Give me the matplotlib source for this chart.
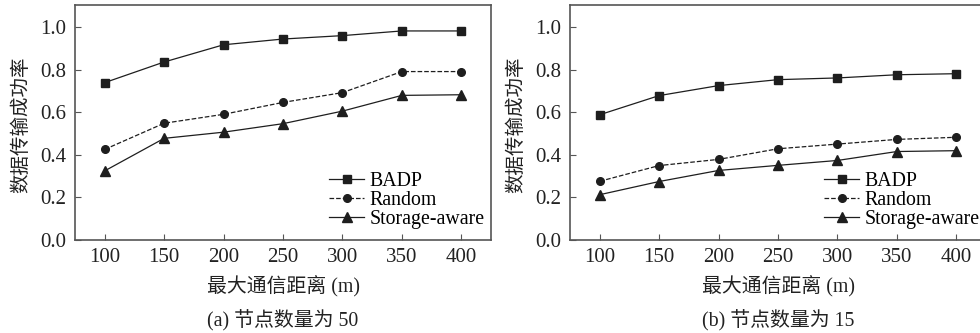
import matplotlib
matplotlib.use("Agg")
import matplotlib.pyplot as plt

plt.rcParams['font.family'] = ['Liberation Serif', 'Noto Sans CJK SC']
plt.rcParams['axes.unicode_minus'] = False

distances = [100, 150, 200, 250, 300, 350, 400]
series_names = ["BADP", "Random", "Storage-aware"]

badp_a = [0.740, 0.837, 0.918, 0.945, 0.961, 0.983, 0.983]
random_a = [0.426, 0.549, 0.591, 0.647, 0.693, 0.792, 0.792]
storage_a = [0.325, 0.478, 0.507, 0.547, 0.606, 0.680, 0.683]

badp_b = [0.589, 0.679, 0.726, 0.754, 0.762, 0.777, 0.782]
random_b = [0.276, 0.350, 0.379, 0.429, 0.451, 0.473, 0.483]
storage_b = [0.213, 0.275, 0.327, 0.351, 0.374, 0.416, 0.420]

yticks = [0.0, 0.2, 0.4, 0.6, 0.8, 1.0]
xlabel = "最大通信距离 (m)"
ylabel = "数据传输成功率"
captions = ["(a) 节点数量为 50", "(b) 节点数量为 15"]

W, H = 980, 333
fig = plt.figure(figsize=(W / 100, H / 100), dpi=100)

line_c = "#1e1e1e"
spine_c = "#555555"
text_c = "#222222"

panels = [
    (75, (badp_a, random_a, storage_a), captions[0]),
    (570, (badp_b, random_b, storage_b), captions[1]),
]
styles = [("-", "s", 6), ("--", "o", 5.5), ("-", "^", 6.5)]

for left_px, data, cap in panels:
    ax = fig.add_axes([left_px / W, (H - 240) / H, 416 / W, 235 / H])
    for vals, name, (ls, mk, ms) in zip(data, series_names, styles):
        ax.plot(distances, vals, linestyle=ls, marker=mk, color=line_c,
                linewidth=0.9, markersize=ms, label=name)
    ax.set_xlim(75, 425)
    ax.set_ylim(0, 1.105)
    ax.set_xticks(distances)
    ax.set_yticks(yticks)
    ax.set_yticklabels([f"{v:.1f}" for v in yticks])
    ax.tick_params(direction="in", length=4, width=0.8, colors=spine_c,
                   labelcolor=text_c, labelsize=15, pad=6)
    for s in ax.spines.values():
        s.set_color(spine_c)
        s.set_linewidth(1.2)
    ax.text(0.5, (240 - 287) / 235, xlabel, transform=ax.transAxes,
            ha="center", va="center", fontsize=14.3, color=text_c)
    ax.text(0.5, (240 - 321) / 235, cap, transform=ax.transAxes,
            ha="center", va="center", fontsize=14.3, color=text_c)
    fig.text((left_px - 54) / W, 1 - 125 / H, ylabel, rotation=90,
             ha="center", va="center", fontsize=14, color=text_c)
    ax.legend(loc="lower right", bbox_to_anchor=(1.0, 0.02), frameon=False,
              fontsize=14.3, handlelength=1.75, handletextpad=0.3,
              labelspacing=0.0, borderpad=0.2, borderaxespad=0.1)

fig.savefig("out.png", dpi=100)
